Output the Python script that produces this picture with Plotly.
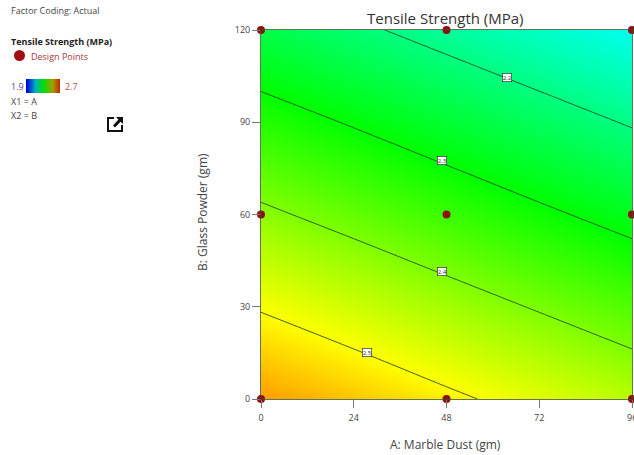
import plotly.graph_objects as go

W, H = 634, 455
L, R, T, B = 261, 632, 30, 399

# --- data ---
marble_dust = [0, 24, 48, 72, 96]
glass_powder = [0, 30, 60, 90, 120]
strength_y0 = [2.578, 2.545, 2.511, 2.478, 2.445]
strength_y30 = [2.495, 2.462, 2.428, 2.395, 2.362]
strength_y60 = [2.411, 2.378, 2.345, 2.311, 2.278]
strength_y90 = [2.328, 2.295, 2.261, 2.228, 2.195]
strength_y120 = [2.244, 2.211, 2.178, 2.145, 2.111]
design_x = [0, 48, 96, 0, 48, 96, 0, 48, 96]
design_y = [0, 0, 0, 60, 60, 60, 120, 120, 120]
label_x = [63.7, 46.8, 46.8, 27.4]
label_y = [104.5, 77.5, 41.5, 15]
label_text = ["2.2", "2.3", "2.4", "2.5"]
x_ticks = [0, 24, 48, 72, 96]
y_ticks = [0, 30, 60, 90, 120]
scale_low, scale_high = 1.9, 2.7

FONT = "Open Sans"
SCALE = [[0, "#0000ff"], [0.25, "#00ffff"], [0.5, "#00ff00"], [0.75, "#ffff00"], [1, "#ff0000"]]
z = [strength_y0, strength_y30, strength_y60, strength_y90, strength_y120]


def px(x):
    return x / W


def py(y):
    return 1 - y / H


fig = go.Figure()
fig.add_trace(go.Heatmap(x=marble_dust, y=glass_powder, z=z, zsmooth="best", colorscale=SCALE,
                         zmin=scale_low, zmax=scale_high, showscale=False, hoverinfo="skip"))
fig.add_trace(go.Contour(x=marble_dust, y=glass_powder, z=z, showscale=False, hoverinfo="skip",
                         contours=dict(coloring="none", start=2.2, end=2.5, size=0.1),
                         line=dict(color="rgba(30,70,30,0.85)", width=1)))
fig.add_trace(go.Scatter(x=design_x, y=design_y, mode="markers", cliponaxis=False,
                         marker=dict(color="#8f0f12", size=8), hoverinfo="skip"))
# small colour key in the left panel
fig.add_trace(go.Heatmap(x=[scale_low, 2.1, 2.3, 2.5, scale_high], y=[0, 1],
                         z=[[scale_low, 2.1, 2.3, 2.5, scale_high]] * 2, zsmooth="best",
                         colorscale=[[0, "#0000d8"], [0.25, "#00b0c0"], [0.5, "#00e000"], [0.75, "#a0a000"], [1, "#c82000"]],
                         zmin=scale_low, zmax=scale_high, showscale=False, xaxis="x2", yaxis="y2", hoverinfo="skip"))

ann = []
for lx, ly, t in zip(label_x, label_y, label_text):
    ann.append(dict(x=lx, y=ly, text=t, showarrow=False, font=dict(size=6, color="#333", family=FONT),
                    bgcolor="white", bordercolor="#333", borderwidth=0.7, borderpad=0))


def text(x, y, t, size=9, color="#444", anchor="left", **kw):
    ann.append(dict(xref="paper", yref="paper", x=px(x), y=py(y), text=t, showarrow=False, xanchor=anchor,
                    yanchor="middle", font=dict(size=size, color=color, family=FONT), **kw))


text(9, 10, "Factor Coding: Actual")
text(9, 41, "<b>Tensile Strength (MPa)</b>", color="#222")
text(29, 56, "Design Points", color="#a33a3a")
text(9, 86, "1.9", color="#4a4aa8")
text(63, 86, "2.7", color="#c8503c")
text(9, 101, "X1 = A")
text(9, 116, "X2 = B")
text(445, 18, "Tensile Strength (MPa)", size=15, color="#333", anchor="center")
text(445, 444, "A: Marble Dust (gm)", size=12, anchor="center")
text(202, 212, "B: Glass Powder (gm)", size=12, anchor="center", textangle=-90)
text(R, 417, str(x_ticks[-1]), anchor="center")  # the last tick label runs into the right edge

shapes = [
    dict(type="circle", xref="paper", yref="paper", x0=px(14), x1=px(25), y0=py(61), y1=py(50),
         fillcolor="#a00d14", line=dict(width=0)),
    dict(type="path", xref="paper", yref="paper", line=dict(color="#111", width=2),
         path=f"M {px(114)} {py(118)} L {px(108)} {py(118)} L {px(108)} {py(131)} L {px(122)} {py(131)} L {px(122)} {py(125)}"),
    dict(type="path", xref="paper", yref="paper", line=dict(width=0), fillcolor="#111",
         path=f"M {px(116)} {py(117)} L {px(123)} {py(117)} L {px(123)} {py(124)} L {px(120.6)} {py(121.8)} "
              f"L {px(115)} {py(127.4)} L {px(113)} {py(125.4)} L {px(118.4)} {py(119.6)} Z"),
]

axis_common = dict(showgrid=False, zeroline=False, showline=True, mirror=True, linecolor="rgba(60,80,40,0.8)",
                   linewidth=1, ticks="outside", ticklen=8, tickcolor="#777", automargin=False,
                   tickfont=dict(size=9, color="#444", family=FONT))

fig.update_layout(
    width=W, height=H, autosize=False, showlegend=False,
    margin=dict(l=0, r=0, t=0, b=0, autoexpand=False),
    paper_bgcolor="white", plot_bgcolor="white",
    xaxis=dict(range=[0, 96], tickvals=x_ticks, domain=[px(L), px(R)], ticklabelstandoff=2, **axis_common),
    yaxis=dict(range=[0, 120], tickvals=y_ticks, domain=[py(B), py(T)], **axis_common),
    xaxis2=dict(domain=[px(26), px(60)], range=[scale_low, scale_high], visible=False, anchor="y2", automargin=False),
    yaxis2=dict(domain=[py(93), py(79)], range=[0, 1], visible=False, anchor="x2", automargin=False),
    annotations=ann, shapes=shapes,
)
fig.write_html("out.html", config={"displayModeBar": False},
               post_script="document.body.style.margin='0';document.body.style.overflow='hidden';window.dispatchEvent(new Event('resize'));")
